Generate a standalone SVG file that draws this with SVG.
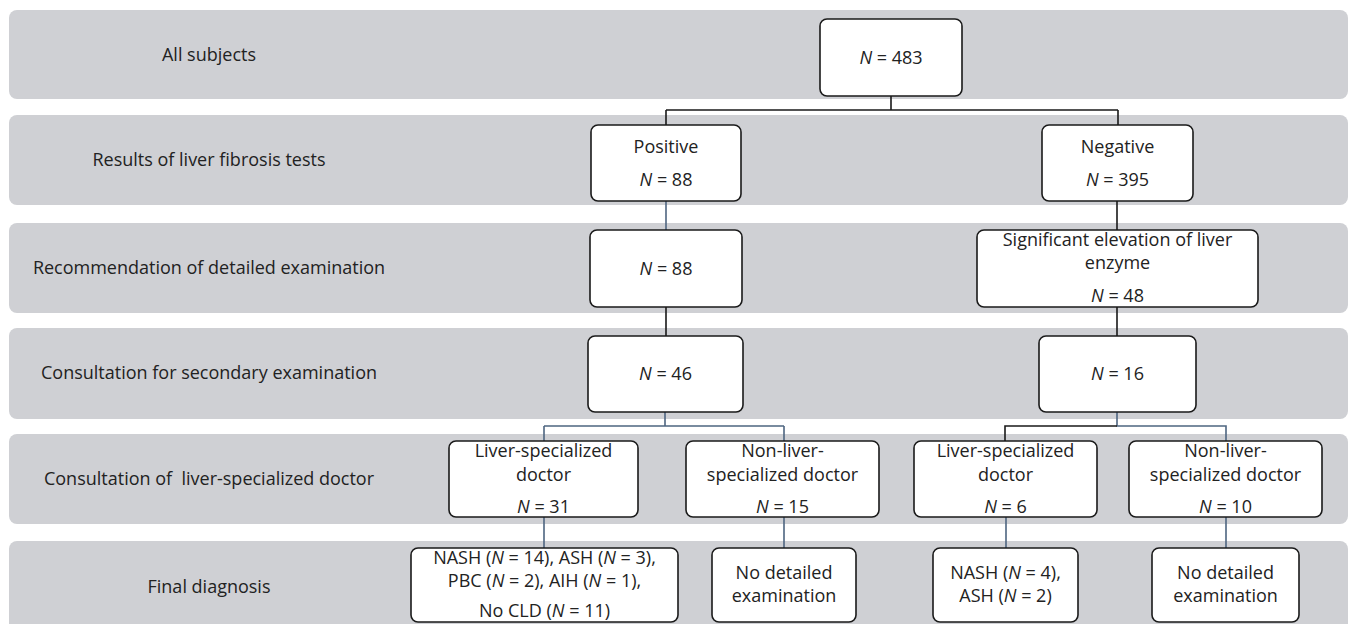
<svg xmlns="http://www.w3.org/2000/svg" width="1349" height="624" viewBox="0 0 1349 624">
<style>
.band{fill:#cfd0d4}
.box{fill:#ffffff;stroke:#1a1a1a;stroke-width:1.6}
text{font-family:"Open Sans","Noto Sans","Liberation Sans",sans-serif;font-size:18px;fill:#222;text-anchor:middle}
.lbl{white-space:pre}
.k{fill:none;stroke:#1a1a1a;stroke-width:1.6}
.b{fill:none;stroke:#4e6580;stroke-width:1.6}
</style>
<rect width="1349" height="624" fill="#ffffff"/>
<g id="bands">
<rect class="band" x="9" y="10" width="1339" height="89" rx="8"/>
<rect class="band" x="9" y="115" width="1339" height="90" rx="8"/>
<rect class="band" x="9" y="223" width="1339" height="90" rx="8"/>
<rect class="band" x="9" y="328" width="1339" height="91" rx="8"/>
<rect class="band" x="9" y="434" width="1339" height="90" rx="8"/>
<rect class="band" x="9" y="541" width="1339" height="100" rx="8"/>
<text x="209" y="61">All subjects</text>
<text x="209" y="166">Results of liver fibrosis tests</text>
<text x="209" y="274">Recommendation of detailed examination</text>
<text x="209" y="379">Consultation for secondary examination</text>
<text x="209" y="485" class="lbl" xml:space="preserve">Consultation of  liver-specialized doctor</text>
<text x="209" y="593">Final diagnosis</text>
</g>
<g id="connectors">
<path class="k" d="M891,96V110M666,110H1118M666,110V125M1118,110V125"/>
<path class="b" d="M666,201V230"/>
<path class="k" d="M666,307V336M1117,201V230M1117,307V336"/>
<path class="b" d="M665,412V426M544,426H784M544,426V441M784,426V441"/>
<path class="b" d="M1117,412V426H1226V441"/>
<path class="k" d="M1117,426H1005V441"/>
<path class="b" d="M544,517V548M784,517V548M1006,517V548M1226,517V548"/>
</g>
<g id="n483"><rect class="box" x="820" y="19" width="142" height="77" rx="7"/><text x="891" y="64"><tspan font-style="italic">N</tspan> = 483</text></g>
<g id="positive"><rect class="box" x="591" y="125" width="150" height="76" rx="7"/><text x="666" y="153">Positive</text><text x="666" y="186"><tspan font-style="italic">N</tspan> = 88</text></g>
<g id="negative"><rect class="box" x="1042" y="125" width="151" height="76" rx="7"/><text x="1117.5" y="153">Negative</text><text x="1117.5" y="186"><tspan font-style="italic">N</tspan> = 395</text></g>
<g id="rec88"><rect class="box" x="590" y="230" width="152" height="77" rx="7"/><text x="666" y="275"><tspan font-style="italic">N</tspan> = 88</text></g>
<g id="rec48"><rect class="box" x="977" y="230" width="281" height="77" rx="7"/><text x="1117.5" y="246">Significant elevation of liver</text><text x="1117.5" y="269">enzyme</text><text x="1117.5" y="302"><tspan font-style="italic">N</tspan> = 48</text></g>
<g id="sec46"><rect class="box" x="588" y="336" width="155" height="76" rx="7"/><text x="665.5" y="380"><tspan font-style="italic">N</tspan> = 46</text></g>
<g id="sec16"><rect class="box" x="1039" y="336" width="157" height="76" rx="7"/><text x="1117.5" y="380"><tspan font-style="italic">N</tspan> = 16</text></g>
<g id="liver31"><rect class="box" x="449" y="441" width="189" height="76" rx="7"/><text x="543.5" y="457">Liver-specialized</text><text x="543.5" y="481">doctor</text><text x="543.5" y="513"><tspan font-style="italic">N</tspan> = 31</text></g>
<g id="nonliver15"><rect class="box" x="686" y="441" width="193" height="76" rx="7"/><text x="782.5" y="457">Non-liver-</text><text x="782.5" y="481">specialized doctor</text><text x="782.5" y="513"><tspan font-style="italic">N</tspan> = 15</text></g>
<g id="liver6"><rect class="box" x="914" y="441" width="183" height="76" rx="7"/><text x="1005.5" y="457">Liver-specialized</text><text x="1005.5" y="481">doctor</text><text x="1005.5" y="513"><tspan font-style="italic">N</tspan> = 6</text></g>
<g id="nonliver10"><rect class="box" x="1129" y="441" width="193" height="76" rx="7"/><text x="1225.5" y="457">Non-liver-</text><text x="1225.5" y="481">specialized doctor</text><text x="1225.5" y="513"><tspan font-style="italic">N</tspan> = 10</text></g>
<g id="diag31"><rect class="box" x="411" y="548" width="267" height="74" rx="7"/><text x="544.5" y="564">NASH (<tspan font-style="italic">N</tspan> = 14), ASH (<tspan font-style="italic">N</tspan> = 3),</text><text x="544.5" y="587">PBC (<tspan font-style="italic">N</tspan> = 2), AIH (<tspan font-style="italic">N</tspan> = 1),</text><text x="544.5" y="617">No CLD (<tspan font-style="italic">N</tspan> = 11)</text></g>
<g id="nodetail15"><rect class="box" x="712" y="548" width="144" height="74" rx="7"/><text x="784" y="579">No detailed</text><text x="784" y="602">examination</text></g>
<g id="diag6"><rect class="box" x="933" y="548" width="145" height="74" rx="7"/><text x="1005.5" y="579">NASH (<tspan font-style="italic">N</tspan> = 4),</text><text x="1005.5" y="602">ASH (<tspan font-style="italic">N</tspan> = 2)</text></g>
<g id="nodetail10"><rect class="box" x="1152" y="548" width="147" height="74" rx="7"/><text x="1225.5" y="579">No detailed</text><text x="1225.5" y="602">examination</text></g>
</svg>
